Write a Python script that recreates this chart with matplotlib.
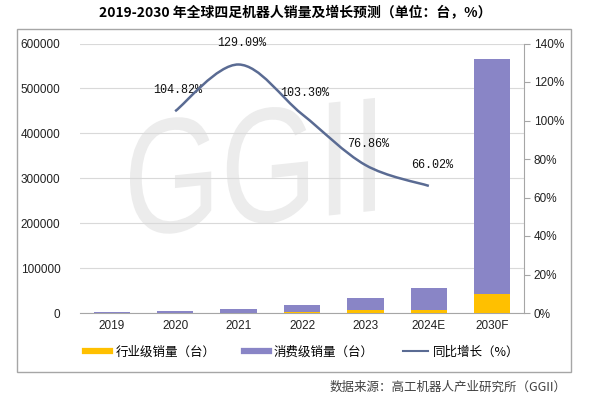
import numpy as np
import matplotlib
matplotlib.use("Agg")
import matplotlib.pyplot as plt
from matplotlib.path import Path
from matplotlib.patches import PathPatch, Rectangle
from matplotlib.textpath import TextPath
from matplotlib.font_manager import FontProperties
from matplotlib.lines import Line2D
from matplotlib.transforms import Affine2D
from matplotlib.ticker import FuncFormatter

plt.rcParams['font.family'] = ['Liberation Sans', 'Noto Sans CJK SC', 'DejaVu Sans']

# ---------------- data ----------------
years = ['2019', '2020', '2021', '2022', '2023', '2024E', '2030F']
industry = [300, 600, 900, 3000, 5800, 7300, 42300]          # 行业级销量（台）
consumer = [2700, 4400, 8700, 15500, 28200, 48400, 522600]    # 消费级销量（台）
growth_years = ['2020', '2021', '2022', '2023', '2024E']
growth = [104.82, 129.09, 103.30, 76.86, 66.02]               # 同比增长（%）

c_ind = '#FFC000'
c_con = '#8985C6'
c_line = '#5A6B93'
c_axis = '#A6A6A6'

fig = plt.figure(figsize=(5.91, 4.04), dpi=100)
ax = fig.add_axes([80/591, 1-313/404, 444/591, 269.5/404])
ax2 = ax.twinx()

x = np.arange(len(years))
ax.bar(x, industry, width=0.57, color=c_ind, zorder=3)
ax.bar(x, consumer, width=0.57, bottom=industry, color=c_con, zorder=3)

ax.set_xlim(-0.5, len(years) - 0.5)
ax.set_ylim(0, 600000)
ax.set_yticks(np.arange(0, 600001, 100000))
ax.set_xticks(x)
ax.set_xticklabels(years)
ax.yaxis.grid(True, color='#D9D9D9', lw=0.8)
ax.set_axisbelow(True)
for s in ['top', 'left', 'right']:
    ax.spines[s].set_visible(False)
ax.spines['bottom'].set_color(c_axis)
ax.tick_params(axis='both', length=0, labelsize=8.5, colors='#222222')
ax.tick_params(axis='y', pad=14)
ax.tick_params(axis='x', pad=5)

# smoothed growth line (Catmull-Rom as cubic bezier)
gx = np.array([years.index(y) for y in growth_years], dtype=float)
gy = np.array(growth) / 100.0
pts = np.column_stack([gx, gy])
verts = [pts[0]]
codes = [Path.MOVETO]
for i in range(len(pts) - 1):
    p0 = pts[i - 1] if i > 0 else pts[i]
    p1 = pts[i]
    p2 = pts[i + 1]
    p3 = pts[i + 2] if i + 2 < len(pts) else pts[i + 1]
    verts += [p1 + (p2 - p0) / 6, p2 - (p3 - p1) / 6, p2]
    codes += [Path.CURVE4] * 3
ax2.add_patch(PathPatch(Path(verts, codes), fill=False, edgecolor=c_line, lw=1.8, zorder=4))
for xi, yi, v in zip(gx, gy, growth):
    ax2.annotate(f'{v:.2f}%', (xi, yi), xytext=(2, 11), textcoords='offset points',
                 ha='center', va='bottom', fontsize=8.5, family='Liberation Mono', color='#111111')

ax2.set_ylim(0, 1.4)
ax2.set_yticks(np.arange(0, 1.41, 0.2))
ax2.yaxis.set_major_formatter(FuncFormatter(lambda v, p: f'{v*100:.0f}%'))
for s in ['top', 'left', 'bottom']:
    ax2.spines[s].set_visible(False)
ax2.spines['right'].set_color(c_axis)
ax2.tick_params(axis='y', length=4, color=c_axis, labelsize=8.5, colors='#222222', pad=3)
ax2.tick_params(axis='y', color=c_axis)

# watermark
tp = TextPath((0, 0), 'GGII', size=1, prop=FontProperties(family='Liberation Sans'))
ext = tp.get_extents()
sx = 2.45 / ext.width
sy = 1.16 / ext.height
tr = (Affine2D().translate(-ext.x0, -ext.y0).scale(sx, sy).skew_deg(0, 6)
      .translate(1.30, 1.66) + fig.dpi_scale_trans)
wm = PathPatch(tp, transform=tr, facecolor='#ECECEC', edgecolor='none', zorder=0.2, clip_on=False)
ax.add_patch(wm)

# frame
fig.patches.append(Rectangle((17/591, 1-372/404), 554/591, 343/404, transform=fig.transFigure,
                             fill=False, edgecolor=c_axis, lw=1.0))

# title
fig.text(0.5, 1-13/404, '2019-2030 年全球四足机器人销量及增长预测（单位：台，%）', ha='center', va='center',
         fontsize=10, fontweight='bold', family=['Noto Sans CJK SC', 'DejaVu Sans'])

# legend
handles = [Line2D([], [], color=c_ind, lw=4.5),
           Line2D([], [], color=c_con, lw=4.5),
           Line2D([], [], color=c_line, lw=1.5)]
labels = ['行业级销量（台）', '消费级销量（台）', '同比增长（%）']
fig.legend(handles, labels, ncol=3, loc='center left', bbox_to_anchor=(74/591, 1-352/404),
           frameon=False, handlelength=2.0, handletextpad=0.4, columnspacing=2.3,
           prop=FontProperties(family=['Noto Sans CJK SC', 'DejaVu Sans'], size=9))

# source
fig.text(567/591, 1-387/404, '数据来源：高工机器人产业研究所（GGII）', ha='right', va='center',
         fontsize=9, style='italic', color='#404040', family=['Noto Sans CJK SC', 'DejaVu Sans'])

fig.savefig('out.png', dpi=100)
